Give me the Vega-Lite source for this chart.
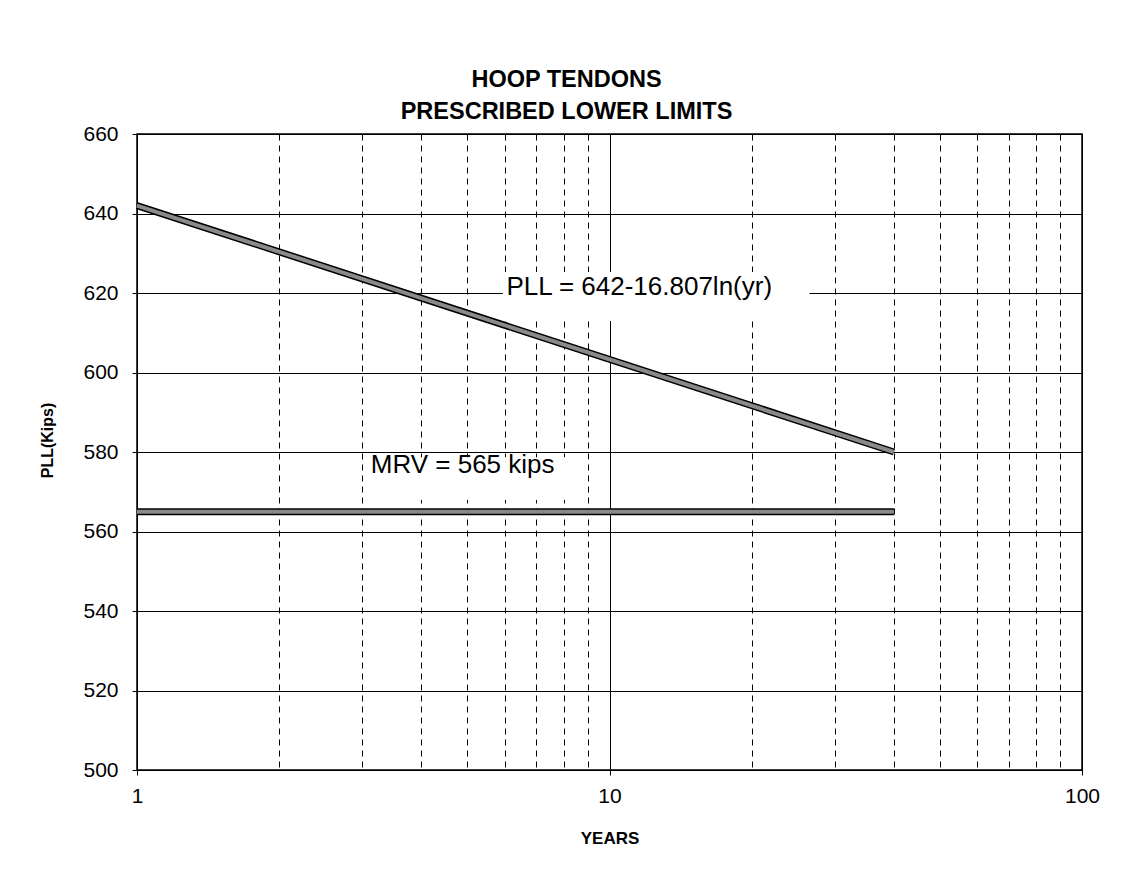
{
  "$schema": "https://vega.github.io/schema/vega-lite/v6.json",
  "width": 945,
  "height": 636,
  "autosize": {"type": "none"},
  "padding": {"left": 137, "top": 134, "right": 50, "bottom": 123},
  "background": "white",
  "title": {
    "text": ["HOOP TENDONS", "PRESCRIBED LOWER LIMITS"],
    "font": "Liberation Sans",
    "fontSize": 23.5,
    "fontWeight": "bold",
    "color": "black",
    "lineHeight": 32,
    "anchor": "middle",
    "dx": -43,
    "offset": 0
  },
  "datasets": {
    "lines": [
      {"series": "PLL", "year": 1, "kips": 642},
      {"series": "PLL", "year": 40, "kips": 580.0},
      {"series": "MRV", "year": 1, "kips": 565},
      {"series": "MRV", "year": 40, "kips": 565}
    ],
    "boxes": [
      {"x1": 5.95, "x2": 26.5, "y1": 612.95, "y2": 625.3},
      {"x1": 3.04, "x2": 8.88, "y1": 567.9, "y2": 578.7}
    ],
    "labels": [
      {"year": 6.05, "kips": 621.4, "text": "PLL = 642-16.807ln(yr)"},
      {"year": 3.124, "kips": 576.65, "text": "MRV = 565 kips"}
    ]
  },
  "config": {
    "view": {"stroke": "black", "strokeWidth": 1.5},
    "axis": {
      "domainColor": "black",
      "tickColor": "black",
      "gridColor": "black",
      "gridOpacity": 1,
      "gridWidth": 1,
      "labelColor": "black",
      "titleColor": "black",
      "labelFont": "Liberation Sans",
      "titleFont": "Liberation Sans",
      "labelFontSize": 21,
      "titleFontWeight": "bold",
      "titleFontSize": 17
    }
  },
  "layer": [
    {
      "data": {"name": "boxes"},
      "mark": {"type": "rect", "fill": "white", "stroke": null},
      "encoding": {
        "x": {
          "field": "x1", "type": "quantitative",
          "scale": {"type": "log", "domain": [1, 100], "nice": false},
          "axis": {
            "title": "YEARS",
            "values": [1, 2, 3, 4, 5, 6, 7, 8, 9, 10, 20, 30, 40, 50, 60, 70, 80, 90, 100],
            "labelExpr": "(datum.value == 1 || datum.value == 10 || datum.value == 100) ? format(datum.value, 'd') : ''",
            "labelFlush": false,
            "labelOverlap": false,
            "labelPadding": 10,
            "tickSize": 5,
            "tickOpacity": {"condition": {"test": "datum.value == 1 || datum.value == 10 || datum.value == 100", "value": 1}, "value": 0},
            "gridDash": {"condition": {"test": "datum.value == 1 || datum.value == 10 || datum.value == 100", "value": []}, "value": [6, 5]},
            "titleY": 68,
            "titleBaseline": "middle"
          }
        },
        "x2": {"field": "x2"},
        "y": {
          "field": "y1", "type": "quantitative",
          "scale": {"domain": [500, 660], "nice": false, "zero": false},
          "axis": {
            "title": "PLL(Kips)",
            "values": [500, 520, 540, 560, 580, 600, 620, 640, 660],
            "tickSize": 5,
            "labelPadding": 14,
            "titleFontSize": 16,
            "titleX": -90,
            "titleY": 306,
            "titleAngle": -90,
            "titleBaseline": "middle",
            "titleAlign": "center"
          }
        },
        "y2": {"field": "y2"}
      }
    },
    {
      "data": {"name": "lines"},
      "mark": {"type": "line", "color": "black", "strokeWidth": 7, "strokeCap": "butt"},
      "encoding": {
        "x": {"field": "year", "type": "quantitative"},
        "y": {"field": "kips", "type": "quantitative"},
        "detail": {"field": "series"}
      }
    },
    {
      "data": {"name": "lines"},
      "mark": {"type": "line", "color": "#8a8a8a", "strokeWidth": 4, "strokeCap": "butt"},
      "encoding": {
        "x": {"field": "year", "type": "quantitative"},
        "y": {"field": "kips", "type": "quantitative"},
        "detail": {"field": "series"}
      }
    },
    {
      "data": {"name": "labels"},
      "mark": {"type": "text", "align": "left", "baseline": "middle", "font": "Liberation Sans", "fontSize": 26, "color": "black"},
      "encoding": {
        "x": {"field": "year", "type": "quantitative"},
        "y": {"field": "kips", "type": "quantitative"},
        "text": {"field": "text"}
      }
    }
  ]
}
